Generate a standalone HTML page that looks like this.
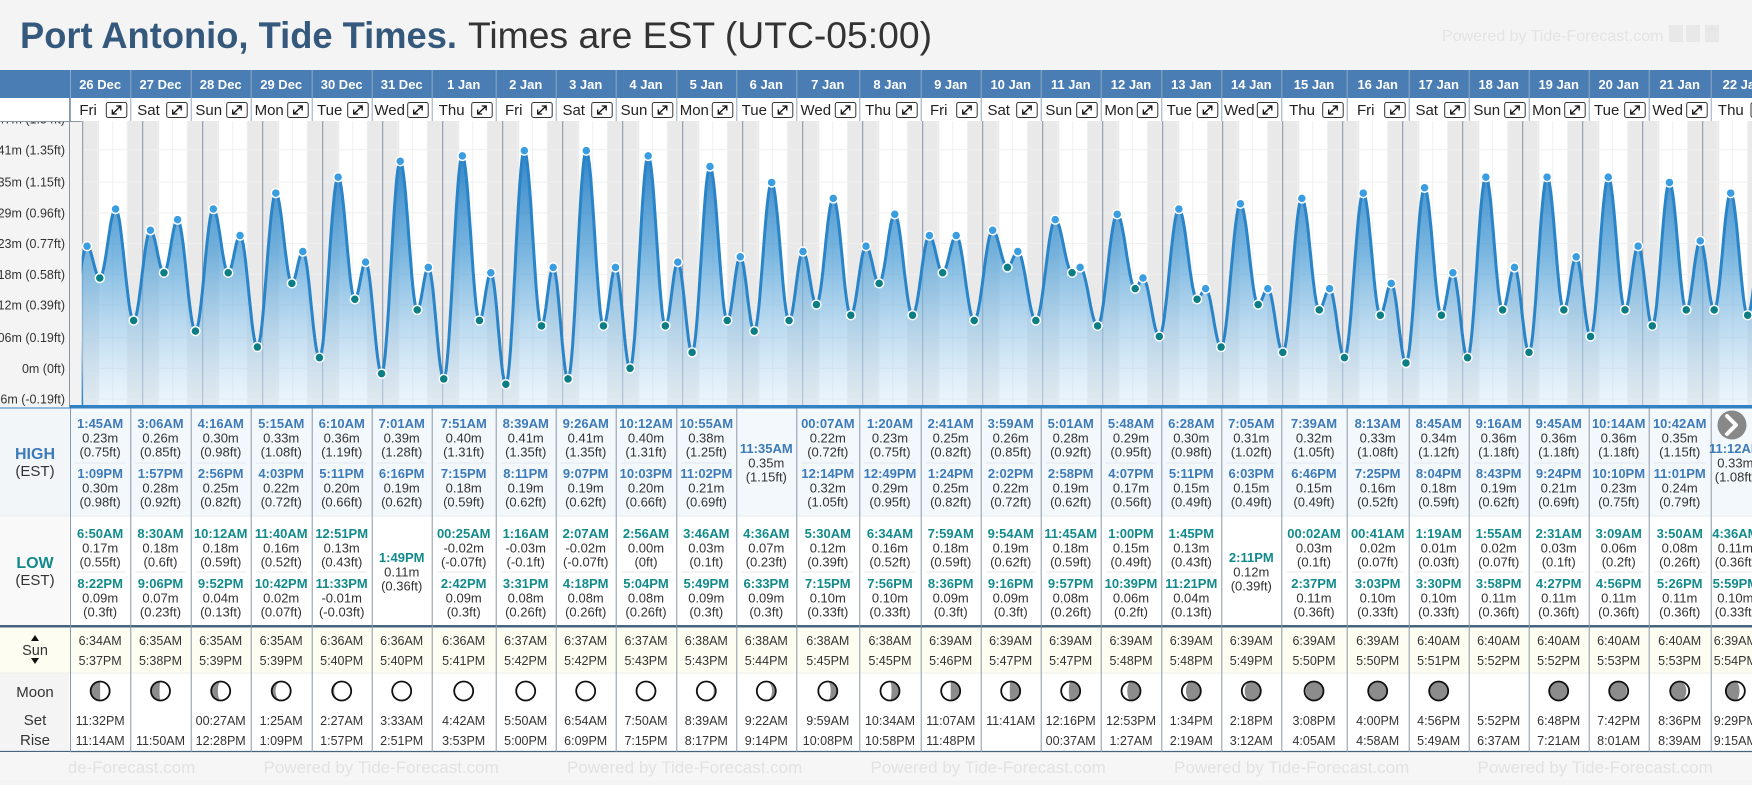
<!DOCTYPE html>
<html><head><meta charset="utf-8">
<style>
html,body{margin:0;padding:0;background:#f4f4f4;}
body{width:1752px;height:780px;overflow:hidden;font-family:"Liberation Sans",sans-serif;}
svg text{font-family:"Liberation Sans","DejaVu Sans",sans-serif;}
</style></head>
<body>
<svg id="root" width="1752" height="780" viewBox="0 0 1752 780" xmlns="http://www.w3.org/2000/svg">
<defs>
<linearGradient id="areaGrad" gradientUnits="userSpaceOnUse" x1="0" y1="130" x2="0" y2="406">
<stop offset="0" stop-color="#1a74bf" stop-opacity="0.97"/>
<stop offset="0.45" stop-color="#4f9fd6" stop-opacity="0.75"/>
<stop offset="1" stop-color="#d8eaf8" stop-opacity="0.45"/>
</linearGradient>
<clipPath id="chartClip"><rect x="81.7" y="121" width="1671" height="285"/></clipPath>
</defs>
<rect x="0" y="0" width="1752" height="780" fill="#f4f4f4"/>
<text x="20" y="48" font-size="37" font-weight="bold" fill="#35597d" textLength="437" lengthAdjust="spacingAndGlyphs">Port Antonio, Tide Times.</text>
<text x="468" y="48" font-size="37" fill="#333" textLength="464" lengthAdjust="spacingAndGlyphs">Times are EST (UTC-05:00)</text>
<text x="1442" y="41" font-size="16" fill="#e4e4e4">Powered by Tide-Forecast.com</text>
<rect x="1669" y="25" width="14" height="17" fill="#e8e8e8"/><rect x="1686" y="25" width="14" height="17" fill="#e8e8e8"/><rect x="1705" y="25" width="14" height="17" fill="#e8e8e8"/>
<g id="g-main"></g>
</svg>
<script>
// ---- data ----
const dates=["26 Dec","27 Dec","28 Dec","29 Dec","30 Dec","31 Dec","1 Jan","2 Jan","3 Jan","4 Jan","5 Jan","6 Jan","7 Jan","8 Jan","9 Jan","10 Jan","11 Jan","12 Jan","13 Jan","14 Jan","15 Jan","16 Jan","17 Jan","18 Jan","19 Jan","20 Jan","21 Jan","22 Jan"];
const weekdays=["Fri","Sat","Sun","Mon","Tue","Wed","Thu","Fri","Sat","Sun","Mon","Tue","Wed","Thu","Fri","Sat","Sun","Mon","Tue","Wed","Thu","Fri","Sat","Sun","Mon","Tue","Wed","Thu"];
const highTime=[["1:45AM","1:09PM"],["3:06AM","1:57PM"],["4:16AM","2:56PM"],["5:15AM","4:03PM"],["6:10AM","5:11PM"],["7:01AM","6:16PM"],["7:51AM","7:15PM"],["8:39AM","8:11PM"],["9:26AM","9:07PM"],["10:12AM","10:03PM"],["10:55AM","11:02PM"],["11:35AM"],["00:07AM","12:14PM"],["1:20AM","12:49PM"],["2:41AM","1:24PM"],["3:59AM","2:02PM"],["5:01AM","2:58PM"],["5:48AM","4:07PM"],["6:28AM","5:11PM"],["7:05AM","6:03PM"],["7:39AM","6:46PM"],["8:13AM","7:25PM"],["8:45AM","8:04PM"],["9:16AM","8:43PM"],["9:45AM","9:24PM"],["10:14AM","10:10PM"],["10:42AM","11:01PM"],["11:12AM"]];
const highM=[[0.23,0.30],[0.26,0.28],[0.30,0.25],[0.33,0.22],[0.36,0.20],[0.39,0.19],[0.40,0.18],[0.41,0.19],[0.41,0.19],[0.40,0.20],[0.38,0.21],[0.35],[0.22,0.32],[0.23,0.29],[0.25,0.25],[0.26,0.22],[0.28,0.19],[0.29,0.17],[0.30,0.15],[0.31,0.15],[0.32,0.15],[0.33,0.16],[0.34,0.18],[0.36,0.19],[0.36,0.21],[0.36,0.23],[0.35,0.24],[0.33]];
const highFt=[["0.75","0.98"],["0.85","0.92"],["0.98","0.82"],["1.08","0.72"],["1.19","0.66"],["1.28","0.62"],["1.31","0.59"],["1.35","0.62"],["1.35","0.62"],["1.31","0.66"],["1.25","0.69"],["1.15"],["0.72","1.05"],["0.75","0.95"],["0.82","0.82"],["0.85","0.72"],["0.92","0.62"],["0.95","0.56"],["0.98","0.49"],["1.02","0.49"],["1.05","0.49"],["1.08","0.52"],["1.12","0.59"],["1.18","0.62"],["1.18","0.69"],["1.18","0.75"],["1.15","0.79"],["1.08"]];
const lowTime=[["6:50AM","8:22PM"],["8:30AM","9:06PM"],["10:12AM","9:52PM"],["11:40AM","10:42PM"],["12:51PM","11:33PM"],["1:49PM"],["00:25AM","2:42PM"],["1:16AM","3:31PM"],["2:07AM","4:18PM"],["2:56AM","5:04PM"],["3:46AM","5:49PM"],["4:36AM","6:33PM"],["5:30AM","7:15PM"],["6:34AM","7:56PM"],["7:59AM","8:36PM"],["9:54AM","9:16PM"],["11:45AM","9:57PM"],["1:00PM","10:39PM"],["1:45PM","11:21PM"],["2:11PM"],["00:02AM","2:37PM"],["00:41AM","3:03PM"],["1:19AM","3:30PM"],["1:55AM","3:58PM"],["2:31AM","4:27PM"],["3:09AM","4:56PM"],["3:50AM","5:26PM"],["4:36AM","5:59PM"]];
const lowM=[[0.17,0.09],[0.18,0.07],[0.18,0.04],[0.16,0.02],[0.13,-0.01],[0.11],[-0.02,0.09],[-0.03,0.08],[-0.02,0.08],[0.00,0.08],[0.03,0.09],[0.07,0.09],[0.12,0.10],[0.16,0.10],[0.18,0.09],[0.19,0.09],[0.18,0.08],[0.15,0.06],[0.13,0.04],[0.12],[0.03,0.11],[0.02,0.10],[0.01,0.10],[0.02,0.11],[0.03,0.11],[0.06,0.11],[0.08,0.11],[0.11,0.10]];
const lowFt=[["0.55","0.3"],["0.6","0.23"],["0.59","0.13"],["0.52","0.07"],["0.43","-0.03"],["0.36"],["-0.07","0.3"],["-0.1","0.26"],["-0.07","0.26"],["0","0.26"],["0.1","0.3"],["0.23","0.3"],["0.39","0.33"],["0.52","0.33"],["0.59","0.3"],["0.62","0.3"],["0.59","0.26"],["0.49","0.2"],["0.43","0.13"],["0.39"],["0.1","0.36"],["0.07","0.33"],["0.03","0.33"],["0.07","0.36"],["0.1","0.36"],["0.2","0.36"],["0.26","0.36"],["0.36","0.33"]];
const sunrise=["6:34AM","6:35AM","6:35AM","6:35AM","6:36AM","6:36AM","6:36AM","6:37AM","6:37AM","6:37AM","6:38AM","6:38AM","6:38AM","6:38AM","6:39AM","6:39AM","6:39AM","6:39AM","6:39AM","6:39AM","6:39AM","6:39AM","6:40AM","6:40AM","6:40AM","6:40AM","6:40AM","6:39AM"];
const sunset=["5:37PM","5:38PM","5:39PM","5:39PM","5:40PM","5:40PM","5:41PM","5:42PM","5:42PM","5:43PM","5:43PM","5:44PM","5:45PM","5:45PM","5:46PM","5:47PM","5:47PM","5:48PM","5:48PM","5:49PM","5:50PM","5:50PM","5:51PM","5:52PM","5:52PM","5:53PM","5:53PM","5:54PM"];
const moonSet=["11:32PM","","00:27AM","1:25AM","2:27AM","3:33AM","4:42AM","5:50AM","6:54AM","7:50AM","8:39AM","9:22AM","9:59AM","10:34AM","11:07AM","11:41AM","12:16PM","12:53PM","1:34PM","2:18PM","3:08PM","4:00PM","4:56PM","5:52PM","6:48PM","7:42PM","8:36PM","9:29PM"];
const moonRise=["11:14AM","11:50AM","12:28PM","1:09PM","1:57PM","2:51PM","3:53PM","5:00PM","6:09PM","7:15PM","8:17PM","9:14PM","10:08PM","10:58PM","11:48PM","","00:37AM","1:27AM","2:19AM","3:12AM","4:05AM","4:58AM","5:49AM","6:37AM","7:21AM","8:01AM","8:39AM","9:15AM"];
// gray fraction of moon disk; negative = gray on left side, null = no icon
const moonGray=[-0.5,-0.45,-0.35,-0.2,-0.1,-0.04,0,0,0,0.04,0.1,0.2,0.35,0.42,0.5,0.55,0.6,0.7,0.78,0.85,0.93,1,1,null,1,-0.93,-0.85,-0.72];
const tickM=["0.47m","0.41m","0.35m","0.29m","0.23m","0.18m","0.12m","0.06m","0m","-0.06m"];
const tickFt=[1.54,1.35,1.15,0.96,0.77,0.58,0.39,0.19,0,-0.19];
// boundary tide points just outside the visible table range (prior low, following high)
const prevPoint=[-1,19.7,0.11];
const nextPoint=[27,23.8,0.25];

// ---- layout ----
const colX=[70,130.3,190.7,250.7,311.7,371.7,431.7,495.7,555.7,615.7,676.3,736.3,796.3,859.3,920.7,980.7,1040.7,1100.7,1161.3,1221.3,1281.3,1346.7,1408.7,1468.7,1528.7,1588.7,1648.7,1710.7,1775];
const NS="http://www.w3.org/2000/svg";
const G=document.getElementById('g-main');
function el(tag,attrs,parent,txt){const e=document.createElementNS(NS,tag);for(const k in attrs)e.setAttribute(k,attrs[k]);if(txt!==undefined)e.textContent=txt;(parent||G).appendChild(e);return e;}
function hrs(t){const m=t.match(/(\d+):(\d+)(AM|PM)/);let h=+m[1]%12;if(m[3]==='PM')h+=12;return h+ +m[2]/60;}
const X0=82.7,PXH=2.5;
const xOf=(d,h)=>X0+(d*24+h)*PXH;
const yOf=m=>368.3-m*531;
const FT=3.28084;

// header band
el('rect',{x:0,y:70,width:1752,height:28,fill:'#4a7db3'});
el('rect',{x:0,y:98,width:1752,height:23,fill:'#fff'});
el('line',{x1:0,y1:121.5,x2:1752,y2:121.5,stroke:'#8a98a6','stroke-width':1});
// chart backgrounds
el('rect',{x:0,y:122,width:70,height:286,fill:'#f4f4f4'});
el('rect',{x:70,y:122,width:1682,height:284,fill:'#f2f2f2'});
const cg=el('g',{'clip-path':'url(#chartClip)'});
el('rect',{x:81.7,y:121,width:1671,height:285,fill:'#fff'},cg);
for(let d=-1;d<=28;d++){
  const ss=d>=0&&d<28?hrs(sunset[d]):17.9;
  const nsr=d+1>=0&&d+1<28?hrs(sunrise[d+1]):6.65;
  const nb=el('rect',{x:xOf(d,ss),y:121,width:(24-ss+nsr)*PXH,height:285,fill:'#e9e9e9'},cg);
  
  
}
for(let d=-1;d<=28;d++){for(const h of [6,12,18]){el('line',{x1:xOf(d,h),y1:121,x2:xOf(d,h),y2:406,stroke:'#f0f0f0','stroke-width':1},cg);}}
tickFt.forEach(f=>{el('line',{x1:70,y1:yOf(f/FT),x2:1752,y2:yOf(f/FT),stroke:'#efefef','stroke-width':1},cg);});
for(let d=0;d<=27;d++){const ml=el('line',{x1:xOf(d,0),y1:121,x2:xOf(d,0),y2:406,stroke:'#7f93a8','stroke-width':1},cg);
  
  }

// events
let ev=[];
for(let d=0;d<28;d++){
  highTime[d].forEach((t,i)=>ev.push({t:d*24+hrs(t),v:highM[d][i],hi:true}));
  lowTime[d].forEach((t,i)=>ev.push({t:d*24+hrs(t),v:lowM[d][i],hi:false}));
}
ev.sort((a,b)=>a.t-b.t);
const all=[{t:prevPoint[0]*24+prevPoint[1],v:prevPoint[2]}].concat(ev,[{t:nextPoint[0]*24+nextPoint[1],v:nextPoint[2]}]);
all.sort((a,b)=>a.t-b.t);
let pts=[];
for(let i=0;i<all.length-1;i++){const a=all[i],b=all[i+1];for(let k=0;k<16;k++){const f=k/16;const v=a.v+(b.v-a.v)*(1-Math.cos(Math.PI*f))/2;pts.push([X0+(a.t+(b.t-a.t)*f)*PXH,yOf(v)]);}}
pts.push([X0+all[all.length-1].t*PXH,yOf(all[all.length-1].v)]);
pts=pts.filter(p=>p[0]>=78);
const ptsStr=pts.map(p=>p[0].toFixed(1)+','+p[1].toFixed(1)).join('L');
const area=el('path',{d:'M81.7,406L'+ptsStr+'L'+pts[pts.length-1][0].toFixed(1)+',406Z',fill:'url(#areaGrad)'},cg);


const tl=el('path',{d:'M81.7,406L'+ptsStr,fill:'none',stroke:'#2a84c8','stroke-width':3,'stroke-linejoin':'round'},cg);


ev.forEach(e=>{const c=el('circle',{cx:X0+e.t*PXH,cy:yOf(e.v),r:4.5,fill:e.hi?'#3a9de0':'#0b7d84',stroke:'#fff','stroke-width':1.5},cg);
  
  });
el('rect',{x:70,y:405,width:1682,height:2.5,fill:'#3181c3'});
el('line',{x1:69.5,y1:98,x2:69.5,y2:408,stroke:'#8a98a6','stroke-width':1});
// y labels
tickM.forEach((m,i)=>{const t=el('text',{x:65,y:yOf(tickFt[i]/FT)+4.5,'font-size':12.5,'text-anchor':'end',fill:'#333'},G,m+' ('+tickFt[i]+'ft)');
  
  });
el('rect',{x:0,y:98,width:69,height:23,fill:'#fff'});
el('line',{x1:0,y1:121.5,x2:70,y2:121.5,stroke:'#8a98a6','stroke-width':1});

// header columns
for(let d=0;d<28;d++){
  const x0=colX[d],x1=colX[d+1];
  el('line',{x1:x0+0.5,y1:70,x2:x0+0.5,y2:121,stroke:'#8fa8c2','stroke-width':1});
  const dt=el('text',{x:(x0+x1)/2,y:89,'font-size':13,'font-weight':'bold','text-anchor':'middle',fill:'#fff'},G,dates[d]);
  
  
  const il=x1-24;
  const wd=el('text',{x:(x0+il)/2,y:115,'font-size':15,'text-anchor':'middle',fill:'#222'},G,weekdays[d]);
  
  
  const b=el('g',{});
  
  
  el('rect',{x:il,y:102.5,width:20.5,height:15,rx:2,fill:'#fff',stroke:'#333','stroke-width':1},b);
  el('path',{d:`M${il+6},${114}L${il+14.5},${106} M${il+10},${106}H${il+14.5}V${110.5} M${il+6},${109.5}V${114}H${il+10.5}`,fill:'none',stroke:'#111','stroke-width':1.3},b);
}

// table
el('rect',{x:0,y:408,width:1752,height:108,fill:'#f3f8fd'});
el('rect',{x:0,y:516,width:1752,height:110,fill:'#fff'});
el('rect',{x:0,y:627,width:1752,height:46,fill:'#fdfdf1'});
el('rect',{x:0,y:673,width:1752,height:79,fill:'#fff'});
el('rect',{x:0,y:408,width:69,height:108,fill:'#f3f6f9'});
el('rect',{x:0,y:516,width:69,height:110,fill:'#f9f9f9'});
el('rect',{x:0,y:673,width:69,height:79,fill:'#f4f4f4'});
el('rect',{x:0,y:752,width:1752,height:28,fill:'#f6f6f6'});
el('line',{x1:0,y1:516,x2:1752,y2:516,stroke:'#e6ebf0'});
el('rect',{x:0,y:625,width:1752,height:2.5,fill:'#46637f'});
el('line',{x1:0,y1:673,x2:1752,y2:673,stroke:'#eee'});
el('line',{x1:0,y1:751.5,x2:1752,y2:751.5,stroke:'#46637f','stroke-width':1.3});
// left labels
const lab=(x,y,s,t,extra)=>{const e=el('text',Object.assign({x:x,y:y,'font-size':s,'text-anchor':'middle',fill:'#333'},extra||{}),G,t);return e;};
lab(35,459,16,'HIGH',{'font-weight':'bold',fill:'#3d7ab8'});lab(35,476,15,'(EST)');
lab(35,568,16,'LOW',{'font-weight':'bold',fill:'#128a8c'});lab(35,585,15,'(EST)');
el('path',{d:'M31,641L35,635L39,641Z M31,658L35,664L39,658Z',fill:'#111'});
lab(35,655,14.5,'Sun');
lab(35,697,15,'Moon');lab(35,725,15,'Set');lab(35,745,15,'Rise');
// footer watermark
for(let i=0;i<7;i++){const w=el('text',{x:-40+i*303.5,y:773,'font-size':17,fill:'#e2e2e2'},G,'Powered by Tide-Forecast.com');
  
  }
el('rect',{x:0,y:752,width:69,height:28,fill:'#f6f6f6'});

function entry(cx,yt,time,m,ft,color,name){
  const t=el('text',{x:cx,y:yt,'font-size':13,'font-weight':'bold','text-anchor':'middle',fill:color},G,time);
  
  
  const v=el('text',{x:cx,y:yt+14.5,'font-size':13,'text-anchor':'middle',fill:'#333'},G,m.toFixed(2)+'m');
  
  
  el('text',{x:cx,y:yt+28.5,'font-size':13,'text-anchor':'middle',fill:'#333'},G,'('+ft+'ft)');
}
function moon(cx,cy,f){
  const r=9.5;
  if(f!==0&&f!==null){
    const s=f>0?1:-1,a=Math.abs(f);
    if(a>=0.999){el('circle',{cx:cx,cy:cy,r:r,fill:'#8c8c8c'});}
    else{
      const sw1=s>0?1:0;
      const rx=Math.max(0.01,r*Math.abs(1-2*a));
      const sw2=a<0.5?(s>0?0:1):(s>0?1:0);
      const d=`M${cx},${cy-r}A${r},${r} 0 0 ${sw1} ${cx},${cy+r}A${rx},${r} 0 0 ${sw2} ${cx},${cy-r}Z`;
      el('circle',{cx:cx,cy:cy,r:r,fill:'#fff'});
      el('path',{d:d,fill:'#8c8c8c'});
    }
  }
  const c=el('circle',{cx:cx,cy:cy,r:r,fill:f===0?'#fff':'none',stroke:'#111','stroke-width':1.8});
  
  
}
for(let d=0;d<28;d++){
  const x0=colX[d],x1=Math.min(colX[d+1],1760),cx=(x0+x1)/2;
  el('line',{x1:x0+0.5,y1:408,x2:x0+0.5,y2:752,stroke:'#8a98a6','stroke-width':1});
  if(highTime[d].length===2){
    entry(cx,428,highTime[d][0],highM[d][0],highFt[d][0],'#3d7ab8','high-tide');
    el('line',{x1:x0+5,y1:463,x2:x1-5,y2:463,stroke:'#e2e8ef'});
    entry(cx,478,highTime[d][1],highM[d][1],highFt[d][1],'#3d7ab8','high-tide');
  } else entry(cx,453,highTime[d][0],highM[d][0],highFt[d][0],'#3d7ab8','high-tide');
  if(lowTime[d].length===2){
    entry(cx,538,lowTime[d][0],lowM[d][0],lowFt[d][0],'#128a8c','low-tide');
    el('line',{x1:x0+5,y1:572,x2:x1-5,y2:572,stroke:'#eaeaea'});
    entry(cx,588,lowTime[d][1],lowM[d][1],lowFt[d][1],'#128a8c','low-tide');
  } else entry(cx,562,lowTime[d][0],lowM[d][0],lowFt[d][0],'#128a8c','low-tide');
  const sr=el('text',{x:cx,y:645,'font-size':12.5,'text-anchor':'middle',fill:'#333'},G,sunrise[d]);
  
  
  const ss=el('text',{x:cx,y:665,'font-size':12.5,'text-anchor':'middle',fill:'#333'},G,sunset[d]);
  
  
  if(moonGray[d]!==null) moon(cx,691,moonGray[d]);
  const ms=el('text',{x:cx,y:725,'font-size':12.5,'text-anchor':'middle',fill:'#333'},G,moonSet[d]);
  
  
  const mr=el('text',{x:cx,y:745,'font-size':12.5,'text-anchor':'middle',fill:'#333'},G,moonRise[d]);
  
  
}
el('line',{x1:0,y1:408,x2:1752,y2:408,stroke:'#3181c3','stroke-width':1});
// next button
const nb=el('g',{});


el('circle',{cx:1732,cy:425,r:14.5,fill:'#888'},nb);
el('path',{d:'M1727,416L1736,425L1727,434',fill:'none',stroke:'#fff','stroke-width':4,'stroke-linecap':'round','stroke-linejoin':'round'},nb);
</script>
</body></html>
